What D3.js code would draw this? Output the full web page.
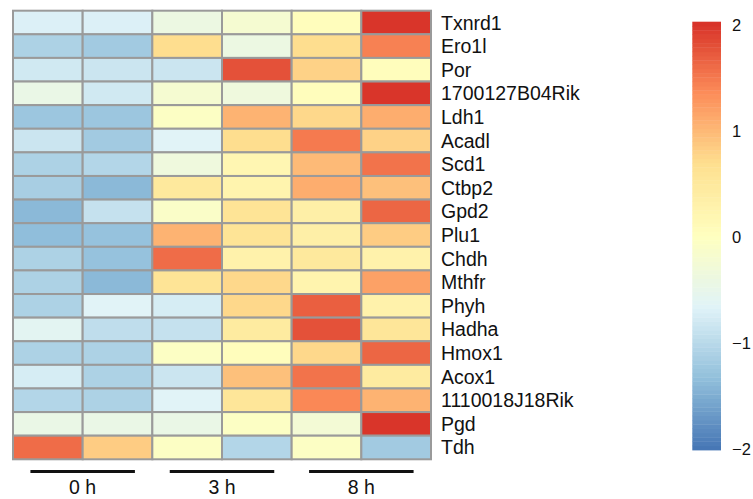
<!DOCTYPE html>
<html>
<head>
<meta charset="utf-8">
<script src="https://cdn.jsdelivr.net/npm/d3@7"></script>
<style>
  html, body { margin: 0; padding: 0; background: #fff; }
  svg { display: block; }
  text { font-family: "Liberation Sans", Arial, Helvetica, sans-serif; fill: #111; }
</style>
</head>
<body>
<svg id="chart" width="753" height="499"></svg>
<script>
// ---- data ----
const genes = ["Txnrd1","Ero1l","Por","1700127B04Rik","Ldh1","Acadl","Scd1","Ctbp2","Gpd2","Plu1",
  "Chdh","Mthfr","Phyh","Hadha","Hmox1","Acox1","1110018J18Rik","Pgd","Tdh"];
const samples = ["0h_1","0h_2","3h_1","3h_2","8h_1","8h_2"];
const groups = ["0 h","3 h","8 h"];
const values = [
  [-0.70,-0.70,-0.40,-0.20, 0.05, 2.00],
  [-1.10,-1.20, 0.70,-0.40, 0.70, 1.45],
  [-0.80,-0.85,-0.85, 1.80, 0.80, 0.05],
  [-0.45,-0.80,-0.20,-0.35, 0.05, 2.00],
  [-1.25,-1.25,-0.05, 1.05, 0.75, 1.10],
  [-0.85,-1.20,-0.65, 0.70, 1.50, 0.80],
  [-1.10,-1.05,-0.35, 0.20, 1.00, 1.55],
  [-1.15,-1.40, 0.50, 0.25, 1.10, 0.95],
  [-1.40,-0.90,-0.10, 0.60, 0.35, 1.65],
  [-1.35,-1.30, 1.05, 0.60, 0.35, 0.85],
  [-1.10,-1.30, 1.60, 0.30, 0.50, 0.30],
  [-1.10,-1.40, 0.60, 0.75, 0.25, 1.20],
  [-1.10,-0.65,-0.75, 0.75, 1.70, 0.30],
  [-0.60,-0.95,-0.90, 0.45, 1.80, 0.55],
  [-1.10,-1.10,-0.05, 0.05, 0.75, 1.65],
  [-0.75,-1.10,-0.85, 0.95, 1.55, 0.45],
  [-1.05,-1.10,-0.65, 0.55, 1.40, 1.05],
  [-0.45,-0.45,-0.45,-0.05,-0.25, 2.00],
  [ 1.60, 0.85,-0.05,-1.05,-0.05,-1.20]
];
const legendTicks = [2, 1, 0, -1, -2];
const colorRange = [-2.02, 2.04];
const paletteStops = ["#4575B4","#91BFDB","#E0F3F8","#FFFFBF","#FEE090","#FC8D59","#D73027"];

// ---- scales ----
const svg = d3.select("#chart");
const x = d3.scaleBand().domain(samples).range([13, 431]).padding(0);
const y = d3.scaleBand().domain(genes).range([10.7, 459.3]).padding(0);
const stopDomain = d3.range(paletteStops.length).map(i =>
  colorRange[0] + i * (colorRange[1] - colorRange[0]) / (paletteStops.length - 1));
const color = d3.scaleLinear().domain(stopDomain).range(paletteStops)
  .interpolate(d3.interpolateRgb).clamp(true);

// ---- cells ----
const cells = [];
values.forEach((row, i) => row.forEach((v, j) => cells.push({gene: genes[i], sample: samples[j], v})));
svg.append("g").selectAll("rect").data(cells).join("rect")
  .attr("x", d => x(d.sample))
  .attr("y", d => y(d.gene))
  .attr("width", x.bandwidth())
  .attr("height", y.bandwidth())
  .attr("fill", d => color(d.v))
  .attr("stroke", "#9a9a9a")
  .attr("stroke-width", 2);

// ---- gene labels ----
svg.append("g").selectAll("text").data(genes).join("text")
  .attr("x", 441)
  .attr("y", d => y(d) + y.bandwidth() / 2 + 7)
  .attr("font-size", 19.5)
  .text(d => d);

// ---- group bars & labels ----
const gx = d3.scaleBand().domain(groups).range([13, 431]).padding(0);
const gg = svg.append("g");
groups.forEach(g => {
  const cx = gx(g) + gx.bandwidth() / 2;
  const half = gx.bandwidth() * 0.75 / 2;
  gg.append("line")
    .attr("x1", cx - half).attr("x2", cx + half)
    .attr("y1", 471.5).attr("y2", 471.5)
    .attr("stroke", "#111").attr("stroke-width", 3);
  gg.append("text")
    .attr("x", cx).attr("y", 494)
    .attr("text-anchor", "middle")
    .attr("font-size", 19.5)
    .text(g);
});

// ---- colour legend ----
const ly = d3.scaleLinear().domain([0, 1]).range([237, 131.2]);
const barTop = 21.7, barBottom = 450;
const bandVals = d3.range(100).map(i => colorRange[0] + (i + 0.5) * (colorRange[1] - colorRange[0]) / 100);
const bandH = (barBottom - barTop) / 100;
const lg = svg.append("g");
lg.selectAll("rect").data(bandVals).join("rect")
  .attr("x", 692.3)
  .attr("y", (d, i) => barBottom - (i + 1) * bandH)
  .attr("width", 28.7)
  .attr("height", bandH + 0.4)
  .attr("fill", d => color(d));
lg.selectAll("text").data(legendTicks).join("text")
  .attr("x", 732)
  .attr("y", d => ly(d) + 6)
  .attr("font-size", 16.5)
  .text(d => d < 0 ? "\u2212" + Math.abs(d) : String(d));
</script>
</body>
</html>
